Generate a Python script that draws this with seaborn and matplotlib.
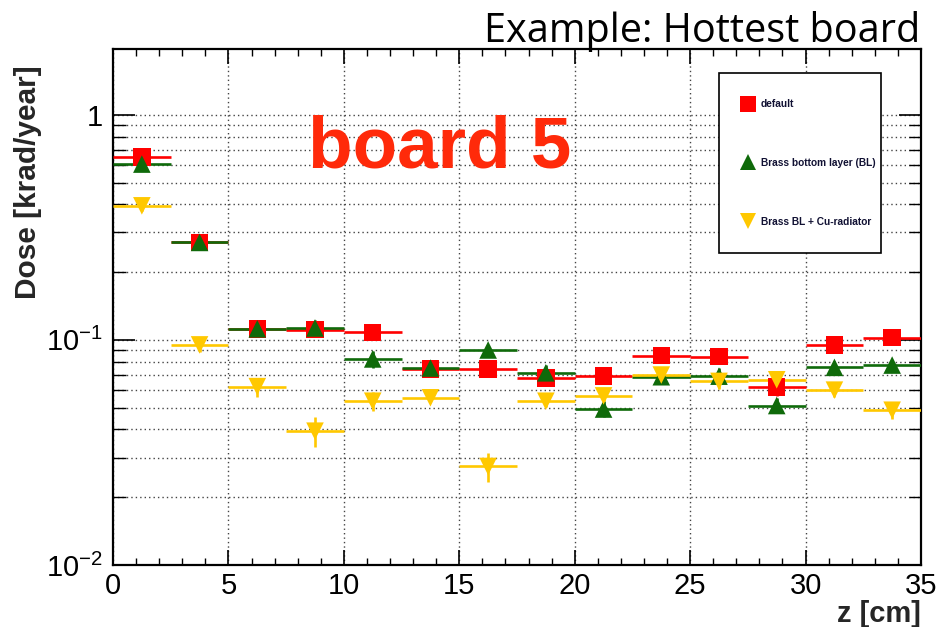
import numpy as np
import pandas as pd
import matplotlib
matplotlib.use("Agg")
import matplotlib.pyplot as plt
import seaborn as sns
from matplotlib.ticker import LogLocator, MultipleLocator, FuncFormatter, NullFormatter

# ---- data ----
z_centers = [1.25, 3.75, 6.25, 8.75, 11.25, 13.75, 16.25, 18.75, 21.25, 23.75, 26.25, 28.75, 31.25, 33.75]
bin_half_width = 1.25
series_names = ["default", "Brass bottom layer (BL)", "Brass BL + Cu-radiator"]
dose_default = [0.65, 0.271, 0.112, 0.111, 0.108, 0.0743, 0.0743, 0.0679, 0.0693, 0.0851, 0.0843, 0.0616, 0.0950, 0.1024]
dose_brass = [0.604, 0.271, 0.112, 0.113, 0.0823, 0.0750, 0.0902, 0.0714, 0.0493, 0.0686, 0.0690, 0.0511, 0.0755, 0.0773]
dose_cu = [0.394, 0.095, 0.062, 0.0393, 0.0534, 0.0553, 0.0274, 0.0534, 0.0564, 0.0698, 0.0654, 0.0665, 0.0598, 0.0487]
err_default = [0.04, 0.010, 0.006, 0.007, 0.005, 0.004, 0.003, 0.004, 0.003, 0.006, 0.005, 0.005, 0.006, 0.006]
err_brass = [0.04, 0.010, 0.008, 0.009, 0.007, 0.005, 0.003, 0.006, 0.004, 0.005, 0.006, 0.004, 0.005, 0.004]
err_cu = [0.02, 0.007, 0.006, 0.006, 0.005, 0.003, 0.004, 0.003, 0.003, 0.004, 0.005, 0.005, 0.004, 0.004]
colors = {"default": "#ff0000", "Brass bottom layer (BL)": "#0f6a0a", "Brass BL + Cu-radiator": "#ffc800"}
markers = {"default": "s", "Brass bottom layer (BL)": "^", "Brass BL + Cu-radiator": "v"}

sns.set_theme(style="ticks")
plt.rcParams['font.family'] = ['Liberation Sans', 'DejaVu Sans']
plt.rcParams['mathtext.default'] = 'regular'

df = pd.DataFrame({
    "z": z_centers * 3,
    "dose": dose_default + dose_brass + dose_cu,
    "err": err_default + err_brass + err_cu,
    "config": [series_names[0]] * 14 + [series_names[1]] * 14 + [series_names[2]] * 14,
})

fig = plt.figure(figsize=(9.37, 6.27), dpi=100)
ax = fig.add_axes([113 / 937, 1 - 565 / 627, 808 / 937, 516 / 627])
ax.set_yscale("log")
ax.set_xlim(0, 35)
ax.set_ylim(0.01, 1.96)

# error bars (horizontal = bin width)
for i, name in enumerate(series_names):
    sub = df[df.config == name]
    ax.errorbar(sub.z, sub.dose, xerr=bin_half_width, yerr=sub.err, fmt="none",
                ecolor=colors[name], elinewidth=1.9, capsize=0, zorder=3 + 0.1 * i)

sns.scatterplot(data=df, x="z", y="dose", hue="config", style="config",
                palette=colors, markers=markers, s=160, linewidth=0,
                ax=ax, zorder=6, legend=True)

# ticks / grid
ax.xaxis.set_major_locator(MultipleLocator(5))
ax.xaxis.set_minor_locator(MultipleLocator(1))
ax.yaxis.set_major_locator(LogLocator(base=10, numticks=10))
ax.yaxis.set_minor_locator(LogLocator(base=10, subs=np.arange(2, 10), numticks=20))
ax.yaxis.set_minor_formatter(NullFormatter())

def yfmt(v, pos):
    if abs(v - 1) < 1e-9:
        return "1"
    e = int(round(np.log10(v)))
    return r"$10^{%d}$" % e
ax.yaxis.set_major_formatter(FuncFormatter(yfmt))

gridkw = dict(color="#444444", linestyle=(0, (1, 2.2)), linewidth=1.0)
ax.grid(True, which="major", axis="x", **gridkw)
ax.grid(True, which="both", axis="y", **gridkw)
ax.set_axisbelow(True)

ax.tick_params(axis="both", which="both", direction="in", top=True, right=True, colors="black")
ax.tick_params(axis="x", which="major", length=11, width=1.2, labelsize=21, pad=5)
ax.tick_params(axis="x", which="minor", length=5, width=1.0)
ax.tick_params(axis="y", which="major", length=16, width=1.2, labelsize=21, pad=7)
ax.tick_params(axis="y", which="minor", length=9, width=1.0)
for sp in ax.spines.values():
    sp.set_linewidth(1.6)
    sp.set_color("black")

ax.set_xlabel("z [cm]", fontsize=21, fontweight="bold", loc="right")
ax.xaxis.set_label_coords(1.0, -0.068)
ax.xaxis.label.set_va("top")
ax.set_ylabel("Dose [krad/year]", fontsize=21.5, fontweight="bold")
ax.yaxis.set_label_coords(-0.088, 0.742)

# legend
handles, labels = ax.get_legend_handles_labels()
leg = ax.legend(handles, labels, loc="upper left",
                bbox_to_anchor=(719 / 937, 1 - 73 / 627 - 0.01, 162 / 937, 0.01),
                bbox_transform=fig.transFigure, mode="expand",
                borderaxespad=0, borderpad=2.6, labelspacing=4.8,
                handlelength=0.6, handletextpad=0.9, markerscale=0.95,
                fancybox=False, framealpha=1, edgecolor="black",
                prop={"size": 7.3, "weight": "bold"})
leg.get_frame().set_linewidth(1.2)
for t in leg.get_texts():
    t.set_color("#111133")

# annotations
ax.text(0.241, 0.771, "board 5", transform=ax.transAxes, fontsize=52.5,
        fontweight="bold", color="#ff2a0a", ha="left", va="baseline", zorder=10)
fig.text(920 / 937, 1 - 42 / 627, "Example: Hottest board", ha="right", va="baseline",
         fontsize=28.5, family=["Open Sans", "DejaVu Sans"], color="black")

fig.savefig("out.png", dpi=100)
